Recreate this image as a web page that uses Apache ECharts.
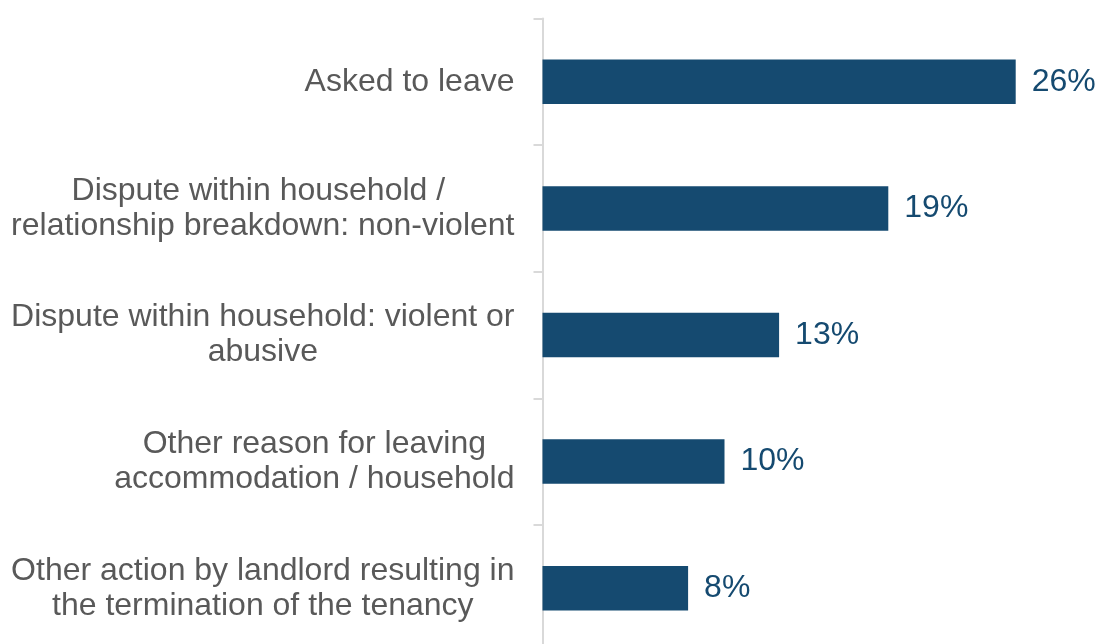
<!DOCTYPE html>
<html>
<head>
<meta charset="utf-8">
<script src="https://cdn.jsdelivr.net/npm/echarts@6/dist/echarts.min.js"></script>
<style>
  html, body { margin: 0; padding: 0; background: #ffffff; }
  #chart { width: 1099px; height: 644px; }
</style>
</head>
<body>
<div id="chart"></div>
<script>
// Reasons for the loss of last settled home (share of cases)
const categories = [
  'Asked to leave',
  'Dispute within household / \nrelationship breakdown: non-violent',
  'Dispute within household: violent or\nabusive',
  'Other reason for leaving\naccommodation / household',
  'Other action by landlord resulting in\nthe termination of the tenancy'
];
const values = [26, 19, 13, 10, 8];

const barColor = '#154a70';
const labelFont = 'Arial, "Liberation Sans", sans-serif';

const chart = echarts.init(document.getElementById('chart'), null, { renderer: 'canvas' });

chart.setOption({
  animation: false,
  backgroundColor: '#ffffff',
  grid: {
    left: 542.5, top: 18.5, width: 546, height: 633,
    containLabel: false,
    outerBoundsMode: 'none'
  },
  xAxis: {
    type: 'value',
    min: 0,
    max: 30,
    show: false
  },
  yAxis: {
    type: 'category',
    inverse: true,
    data: categories,
    axisLine: { show: true, lineStyle: { color: '#d9d9d9', width: 2 } },
    axisTick: { show: true, length: 9, lineStyle: { color: '#d9d9d9', width: 2 } },
    splitLine: { show: false },
    axisLabel: {
      margin: 28,
      formatter: function (v) {
        return v.split('\n').map(function (line) { return '{c|' + line + '}'; }).join('\n');
      },
      rich: {
        c: {
          align: 'center',
          fontSize: 32,
          lineHeight: 35,
          color: '#595959',
          fontFamily: labelFont
        }
      }
    }
  },
  series: [{
    type: 'bar',
    data: values,
    barWidth: 44.5,
    itemStyle: { color: barColor },
    label: {
      show: true,
      position: 'right',
      distance: 16,
      formatter: '{c}%',
      color: barColor,
      fontSize: 32,
      fontFamily: labelFont
    }
  }]
});
</script>
</body>
</html>
